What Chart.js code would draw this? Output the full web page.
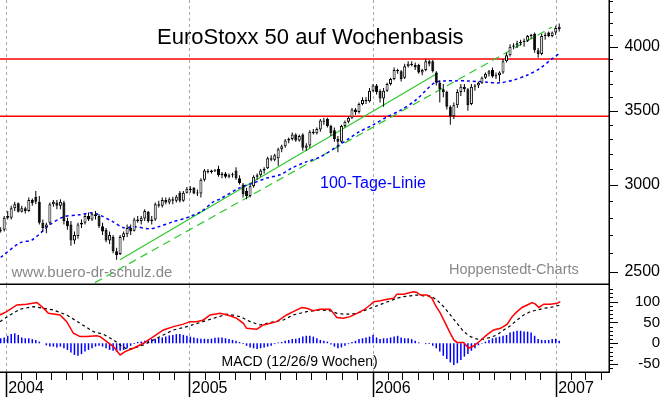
<!DOCTYPE html>
<html><head><meta charset="utf-8">
<script src="https://cdn.jsdelivr.net/npm/chart.js@4"></script>
<style>
html,body{margin:0;padding:0;background:#fff;}
#wrap{position:relative;width:660px;height:397px;overflow:hidden;background:#fff;}
canvas{display:block;}
</style></head><body>
<div id="wrap">
<canvas id="price" width="660" height="285"></canvas>
<canvas id="macd" width="660" height="112"></canvas>
</div>
<script>
// ---------- DATA ----------
const firstWeekStart = Date.UTC(2003, 11, 22); // Monday of the first weekly candle
const yearLabels = ['2004', '2005', '2006', '2007'];
const priceTicks = [2500,2600,2700,2800,2900,3000,3100,3200,3300,3400,3500,3600,3700,3800,3900,4000,4100,4200,4300,4400];
const priceTickLabels = [2500, 3000, 3500, 4000];
const macdTicks = [-60,-50,-40,-30,-20,-10,0,10,20,30,40,50,60,70,80,90,100,110,120,130];
const macdTickLabels = [-50, 0, 50, 100];

const weekOpen = [2725,2730,2800,2800,2855,2885,2835,2855,2840,2905,
 2925,2895,2770,2745,2770,2880,2890,2870,2890,2780,
 2760,2670,2695,2760,2770,2810,2790,2820,2810,2750,
 2730,2670,2690,2610,2595,2690,2705,2740,2725,2790,
 2780,2795,2835,2780,2790,2880,2870,2905,2890,2910,
 2900,2950,2900,2950,2975,2980,2945,2945,3030,3085,
 3080,3090,3100,3060,3070,3050,3060,3090,3040,3000,
 2960,2930,2990,3050,3060,3090,3105,3170,3160,3170,
 3230,3250,3290,3300,3330,3290,3330,3240,3255,3350,
 3340,3365,3430,3440,3390,3360,3300,3280,3390,3420,
 3450,3510,3490,3550,3580,3570,3650,3690,3650,3590,
 3650,3700,3740,3810,3800,3750,3840,3860,3850,3850,
 3790,3810,3880,3880,3790,3710,3660,3640,3530,3460,
 3540,3640,3680,3660,3550,3680,3690,3710,3750,3780,
 3810,3760,3770,3790,3880,3930,4000,4010,4030,4040,
 4050,4090,4110,3970,3940,4090,4120,4090,4120,4150];
const weekHigh = [2745,2810,2840,2870,2895,2890,2870,2865,2920,2915,
 2960,2930,2790,2770,2890,2905,2905,2910,2900,2800,
 2780,2720,2770,2790,2820,2830,2830,2840,2820,2770,
 2740,2720,2700,2630,2700,2720,2760,2760,2800,2810,
 2810,2850,2840,2810,2890,2900,2920,2920,2920,2925,
 2935,2960,2960,2985,2990,2985,2970,3040,3100,3100,
 3095,3100,3120,3080,3080,3070,3075,3110,3060,3010,
 2980,3000,3060,3070,3100,3110,3180,3190,3200,3240,
 3260,3300,3310,3345,3340,3330,3340,3270,3360,3370,
 3380,3440,3450,3450,3400,3380,3320,3400,3430,3460,
 3520,3520,3560,3600,3600,3670,3700,3700,3660,3670,
 3710,3750,3830,3820,3810,3860,3880,3880,3870,3860,
 3820,3900,3890,3890,3800,3730,3700,3650,3540,3560,
 3660,3700,3700,3670,3700,3700,3720,3760,3790,3810,
 3830,3790,3800,3900,3950,4020,4030,4050,4060,4070,
 4100,4110,4120,3990,4110,4120,4130,4130,4180,4200];
const weekLow = [2715,2720,2790,2790,2840,2830,2830,2825,2835,2870,
 2880,2760,2720,2710,2760,2865,2850,2850,2760,2730,
 2640,2650,2680,2740,2760,2780,2780,2790,2740,2700,
 2660,2650,2600,2565,2590,2670,2690,2700,2720,2770,
 2760,2780,2770,2760,2780,2860,2860,2880,2880,2880,
 2890,2890,2895,2945,2950,2940,2930,2920,3020,3070,
 3070,3080,3050,3040,3040,3040,3045,3030,3000,2920,
 2910,2920,2980,3030,3050,3070,3100,3150,3150,3120,
 3210,3240,3270,3290,3280,3280,3220,3220,3240,3330,
 3330,3350,3400,3380,3320,3280,3210,3270,3380,3410,
 3440,3470,3480,3540,3550,3560,3640,3620,3560,3530,
 3640,3690,3730,3780,3720,3740,3830,3840,3810,3780,
 3770,3800,3840,3790,3690,3560,3600,3510,3400,3440,
 3520,3610,3640,3500,3540,3650,3670,3700,3740,3760,
 3750,3740,3720,3780,3870,3920,3980,3990,4010,4000,
 4040,4070,3950,3910,3930,4060,4080,4080,4100,4130];
const weekClose = [2730,2800,2810,2855,2880,2835,2855,2840,2905,2885,
 2895,2770,2740,2760,2880,2895,2870,2895,2780,2750,
 2670,2700,2760,2770,2810,2790,2820,2810,2750,2720,
 2670,2700,2610,2590,2690,2710,2740,2720,2790,2780,
 2800,2840,2780,2790,2880,2870,2905,2890,2910,2900,
 2925,2900,2950,2975,2965,2945,2950,3030,3090,3080,
 3090,3085,3060,3070,3050,3060,3065,3040,3010,2940,
 2930,2990,3050,3060,3090,3100,3170,3160,3190,3230,
 3250,3290,3300,3330,3290,3320,3240,3255,3350,3340,
 3370,3430,3420,3390,3340,3300,3280,3390,3420,3450,
 3510,3490,3550,3580,3570,3650,3690,3640,3590,3650,
 3700,3740,3810,3800,3740,3840,3860,3850,3830,3790,
 3810,3880,3860,3800,3710,3660,3640,3530,3460,3540,
 3640,3680,3660,3540,3680,3690,3710,3750,3780,3800,
 3760,3770,3790,3880,3930,4000,4010,4030,4040,4050,
 4090,4100,3970,3940,4090,4100,4090,4120,4160,4170];

// 100-day line, points [week, value]
const ma100 = [[0,2578],[5.5,2657],[9,2674],[14,2759],[18,2805],[22.5,2817],[26,2829],[28,2817],
 [32,2776],[35,2742],[38,2748],[42.5,2736],[45,2748],[49,2776],[53,2800],[57,2835],[60.5,2894],
 [62.5,2912],[68,2980],[72,3011],[76,3043],[79.5,3062],[83,3107],[87,3146],[91,3178],[95,3237],
 [98.6,3294],[102,3349],[106,3398],[110,3456],[114,3506],[118,3575],[123.5,3710],[126.5,3725],
 [129.4,3725],[132.8,3725],[138.5,3715],[142,3710],[146,3732],[150,3771],[153.6,3825],
 [156.5,3890],[159.3,3950]];
// trend lines, endpoints [week, value]
const trendSolid = [[33.97,2565],[124.5,3787]];
const trendDashed = [[26.85,2445],[156.9,4167]];
const levelLines = [3900, 3460];

// MACD (12/26/9 weeks)
const macdLine = [[-0.2,68],[1.7,76],[4.6,92],[7.4,94],[10.3,98],[11.7,88],[13.6,72],[16.9,68],[18.8,52],
 [20.7,24],[22.6,16],[24.5,16],[27.3,18],[28.3,16],[30.2,4],[32.1,-8],[34,-28],[35.4,-20],[37.8,-12],
 [40.6,0],[43.5,16],[46.3,32],[49.2,40],[52,46],[53.9,52],[55.8,52],[57.7,56],[59.6,68],[62.5,72],
 [65.3,66],[67.2,60],[69.1,48],[70,36],[72.9,34],[74.8,44],[78.6,52],[81.4,68],[83.3,76],[85.7,86],
 [87.1,84],[89,78],[90.9,82],[93.8,82],[95.7,62],[97.6,60],[99.5,64],[101.4,72],[103.3,80],[105.2,92],
 [106.2,100],[108.1,102],[110,106],[111.9,108],[112.8,118],[114.7,118],[116.6,122],[117.6,124],
 [118.5,122],[119.5,116],[121.4,116],[122.8,108],[123.7,92],[125.2,72],[126.6,48],[128,24],[129,8],
 [129.9,2],[131.8,2],[133.2,-12],[134.7,-6],[136.5,6],[138.4,20],[140.3,32],[142.3,36],[144.2,46],
 [145.6,64],[147,76],[148.4,86],[149.9,92],[151.3,98],[152.2,94],[153.2,86],[154.6,94],[156.5,94],
 [158.4,96],[159.3,100]];
const signalLine = [[-0.2,52],[2.65,68],[5.5,82],[9.3,88],[12.1,84],[15,80],[18.8,68],[22.6,48],[26.4,28],
 [29.2,22],[32.1,8],[34,-4],[35.9,-14],[37.8,-12],[40.6,-4],[43.5,8],[46.3,20],[49.2,32],[53,40],
 [56.8,50],[60.6,60],[64.4,70],[68.2,64],[71,52],[73.8,44],[76.7,50],[80.5,56],[83.3,68],[87.1,76],
 [90.9,80],[93.8,78],[95.7,72],[97.6,70],[99.5,70],[101.4,72],[103.3,78],[105.2,84],[107.1,90],
 [109,96],[110.9,102],[112.8,108],[114.7,112],[116.6,114],[118.5,116],[120.4,114],[122.3,114],
 [124.2,104],[126.1,88],[128,68],[129.9,48],[131.8,28],[133.7,16],[135.6,10],[137.5,10],[139.4,14],
 [141.3,20],[143.2,32],[145.1,42],[147,56],[148.9,68],[150.8,76],[152.7,80],[154.6,84],[156.5,86],
 [159.3,92]];
const macdHist = [12,14,18,22,24,20,14,12,12,10,
 8,4,0,-5,-8,-8,-10,-8,-12,-16,
 -22,-28,-30,-26,-20,-16,-12,-8,-6,-8,
 -12,-16,-18,-20,-18,-16,-12,-6,-2,3,
 4,6,8,10,11,13,14,16,19,20,
 22,22,20,18,16,14,12,11,11,10,
 11,13,14,14,12,10,8,6,3,-2,
 -6,-10,-12,-14,-12,-10,-8,-6,-2,2,
 3,6,8,10,11,13,16,18,18,16,
 12,8,6,4,-3,-8,-12,-10,-6,-2,
 3,6,10,12,14,16,20,14,10,12,
 12,14,16,18,14,12,12,10,6,2,
 0,-2,-2,-6,-12,-20,-30,-38,-46,-52,
 -48,-40,-32,-26,-18,-12,-5,-1,4,8,
 12,14,16,18,20,26,28,30,30,28,
 28,26,18,10,8,8,8,10,11,6];

// ---------- SETUP ----------
const FONT = '"Liberation Sans", Arial, Helvetica, sans-serif';
Chart.defaults.font.family = FONT;
Chart.defaults.color = '#000';
const X_MIN = -0.194, X_MAX = 173.17;
const weekIdx = weekOpen.map((_, i) => i);
const DAY = 86400000;
const monthTicks = [];
for (let y = 2004; y <= 2007; y++) {
  for (let m = 0; m < 12; m++) {
    const pos = (Date.UTC(y, m, 1) - firstWeekStart) / (7 * DAY);
    if (pos > X_MAX) break;
    monthTicks.push({ value: pos, label: m === 0 ? yearLabels[y - 2004] : '', year: m === 0 });
  }
}
const yearPos = monthTicks.filter(t => t.year).map(t => t.value);
const pts = arr => arr.map(([x, y]) => ({ x, y }));

function yearGrid(chart) {
  const { ctx, chartArea: a, scales: { x } } = chart;
  ctx.save();
  ctx.strokeStyle = '#a8a8a8'; ctx.lineWidth = 1; ctx.setLineDash([3, 3]);
  yearPos.forEach(v => {
    const px = Math.round(x.getPixelForValue(v)) + 0.5;
    ctx.beginPath(); ctx.moveTo(px, a.top); ctx.lineTo(px, a.bottom); ctx.stroke();
  });
  ctx.restore();
}

const priceDeco = {
  id: 'priceDeco',
  beforeDatasetsDraw(chart) { yearGrid(chart); },
  afterDraw(chart) {
    const { ctx, chartArea: a, scales: { y } } = chart;
    ctx.save();
    ctx.strokeStyle = '#000'; ctx.lineWidth = 1.5;
    ctx.beginPath(); ctx.moveTo(a.left, a.bottom - 0.75); ctx.lineTo(a.right, a.bottom - 0.75); ctx.stroke();
    ctx.beginPath(); ctx.moveTo(a.right + 0.25, 0); ctx.lineTo(a.right + 0.25, a.bottom); ctx.stroke();
    ctx.lineWidth = 1;
    y.ticks.forEach(t => {
      const py = Math.round(y.getPixelForValue(t.value)) + 0.5;
      const len = priceTickLabels.includes(t.value) ? 9 : 4;
      ctx.beginPath(); ctx.moveTo(a.right, py); ctx.lineTo(a.right + len, py); ctx.stroke();
    });
    ctx.textBaseline = 'alphabetic'; ctx.textAlign = 'left';
    ctx.fillStyle = '#000'; ctx.font = '22px ' + FONT;
    ctx.fillText('EuroStoxx 50 auf Wochenbasis', 157, 43.5);
    ctx.fillStyle = '#0000ff'; ctx.font = '16px ' + FONT;
    ctx.fillText('100-Tage-Linie', 320, 187.5);
    ctx.fillStyle = '#888888'; ctx.font = '15px ' + FONT;
    ctx.fillText('www.buero-dr-schulz.de', 11.5, 276.5);
    ctx.font = '14.5px ' + FONT;
    ctx.fillText('Hoppenstedt-Charts', 449, 274);
    ctx.restore();
  }
};

const macdDeco = {
  id: 'macdDeco',
  beforeDatasetsDraw(chart) { yearGrid(chart); },
  afterDraw(chart) {
    const { ctx, chartArea: a, scales: { x, y } } = chart;
    const H = chart.height;
    ctx.save();
    ctx.strokeStyle = '#000'; ctx.lineWidth = 1.5;
    ctx.beginPath(); ctx.moveTo(a.right + 0.25, 0); ctx.lineTo(a.right + 0.25, a.bottom); ctx.stroke();
    ctx.beginPath(); ctx.moveTo(a.left, a.bottom + 0.25); ctx.lineTo(a.right + 1, a.bottom + 0.25); ctx.stroke();
    ctx.lineWidth = 1;
    y.ticks.forEach(t => {
      const py = Math.round(y.getPixelForValue(t.value)) + 0.5;
      const len = macdTickLabels.includes(t.value) ? 9 : 4;
      ctx.beginPath(); ctx.moveTo(a.right, py); ctx.lineTo(a.right + len, py); ctx.stroke();
    });
    monthTicks.forEach(t => {
      const px = Math.round(x.getPixelForValue(t.value)) + 0.5;
      ctx.lineWidth = t.year ? 1.5 : 1;
      ctx.beginPath(); ctx.moveTo(px, a.bottom); ctx.lineTo(px, t.year ? H : a.bottom + 8); ctx.stroke();
    });
    ctx.fillStyle = '#000'; ctx.font = '14px ' + FONT;
    ctx.textBaseline = 'alphabetic'; ctx.textAlign = 'left';
    ctx.fillText('MACD (12/26/9 Wochen)', 221.5, 80.7);
    ctx.restore();
  }
};

const common = {
  responsive: false, animation: false, events: [],
  layout: { padding: 0 },
  plugins: { legend: { display: false }, tooltip: { enabled: false }, title: { display: false } }
};

new Chart(document.getElementById('price'), {
  type: 'bar',
  data: {
    datasets: [
      { type: 'bar', label: 'Körper', order: 0, grouped: false, barThickness: 3, minBarLength: 1,
        data: weekIdx.map(i => ({ x: i, y: [Math.min(weekOpen[i], weekClose[i]), Math.max(weekOpen[i], weekClose[i])] })),
        backgroundColor: weekIdx.map(i => weekClose[i] >= weekOpen[i] ? '#ffffff' : '#000000'),
        borderColor: '#000', borderWidth: 1, borderSkipped: false, inflateAmount: 0 },
      { type: 'bar', label: 'Docht', order: 1, grouped: false, barThickness: 1,
        data: weekIdx.map(i => ({ x: i, y: [weekLow[i], weekHigh[i]] })),
        backgroundColor: '#000', borderWidth: 0, inflateAmount: 0 },
      { type: 'line', label: '100-Tage-Linie', order: 2, data: pts(ma100), borderColor: '#0000ff',
        borderWidth: 1.5, borderDash: [3, 3], pointRadius: 0, tension: 0.3 },
      { type: 'line', label: 'Trend 1', order: 3, data: pts(trendSolid), borderColor: '#2dc82d',
        borderWidth: 1.2, pointRadius: 0 },
      { type: 'line', label: 'Trend 2', order: 3, data: pts(trendDashed), borderColor: '#2dc82d',
        borderWidth: 1.2, borderDash: [8, 5], pointRadius: 0 },
      ...levelLines.map(v => ({ type: 'line', label: 'Linie ' + v, order: 4,
        data: [{ x: X_MIN, y: v }, { x: X_MAX, y: v }], borderColor: '#ff0000', borderWidth: 1.5, pointRadius: 0 }))
    ]
  },
  options: Object.assign({}, common, {
    scales: {
      x: { type: 'linear', min: X_MIN, max: X_MAX, offset: false, display: false },
      y: { type: 'logarithmic', position: 'right', min: 2433, max: 4410,
        afterBuildTicks: s => { s.ticks = priceTicks.map(v => ({ value: v })); },
        afterFit: s => { s.width = 51; s.paddingTop = 0; s.paddingBottom = 0; },
        ticks: { autoSkip: false, crossAlign: 'far', padding: 11.4, font: { size: 16 }, color: '#000',
          callback: v => priceTickLabels.includes(v) ? String(v) : '' },
        grid: { display: false, drawTicks: false }, border: { display: false } }
    }
  }),
  plugins: [priceDeco]
});

new Chart(document.getElementById('macd'), {
  type: 'bar',
  data: {
    datasets: [
      { type: 'line', label: 'MACD', order: 0, data: pts(macdLine), borderColor: '#ff0000',
        borderWidth: 1.5, pointRadius: 0 },
      { type: 'line', label: 'Signal', order: 1, data: pts(signalLine), borderColor: '#000',
        borderWidth: 1.2, borderDash: [3, 3], pointRadius: 0 },
      { type: 'bar', label: 'Histogramm', order: 2, barThickness: 1.5,
        data: weekIdx.map(i => ({ x: i, y: macdHist[i] })), backgroundColor: '#0000ff', borderWidth: 0, inflateAmount: 0 }
    ]
  },
  options: Object.assign({}, common, {
    scales: {
      x: { type: 'linear', min: X_MIN, max: X_MAX, offset: false, position: 'bottom',
        afterBuildTicks: s => { s.ticks = monthTicks.map(t => ({ value: t.value })); },
        afterFit: s => { s.height = 25; s.paddingLeft = 0; s.paddingRight = 0; },
        ticks: { autoSkip: false, maxRotation: 0, minRotation: 0, align: 'start', labelOffset: 2.5, padding: 7,
          font: { size: 16 }, color: '#000', callback: (v, i) => monthTicks[i] ? monthTicks[i].label : '' },
        grid: { display: false, drawTicks: false }, border: { display: false } },
      y: { type: 'linear', position: 'right', min: -69, max: 140,
        afterBuildTicks: s => { s.ticks = macdTicks.map(v => ({ value: v })); },
        afterFit: s => { s.width = 51; s.paddingTop = 0; s.paddingBottom = 0; },
        ticks: { autoSkip: false, crossAlign: 'far', padding: 20, font: { size: 15 }, color: '#000',
          callback: v => macdTickLabels.includes(v) ? String(v) : '' },
        grid: { display: false, drawTicks: false }, border: { display: false } }
    }
  }),
  plugins: [macdDeco]
});
</script>
</body></html>
